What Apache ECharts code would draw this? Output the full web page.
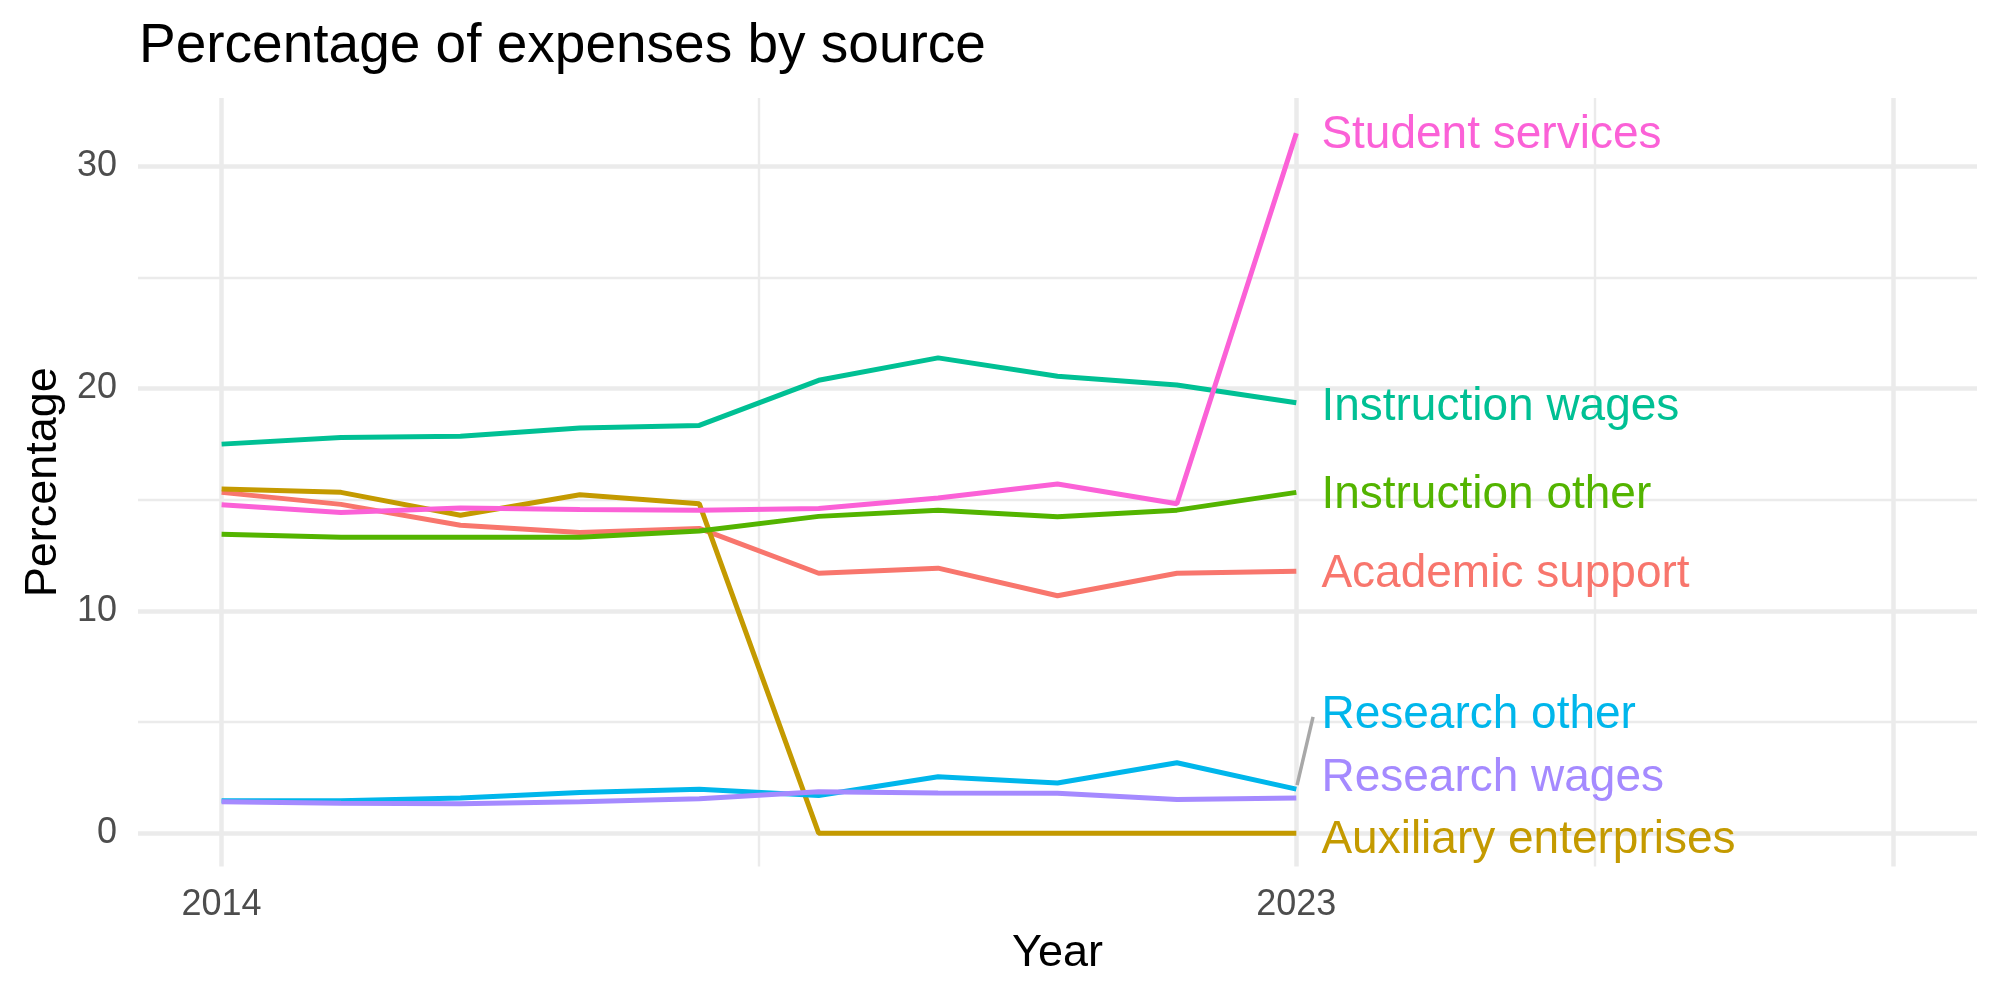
<!DOCTYPE html>
<html>
<head>
<meta charset="utf-8">
<script src="https://cdn.jsdelivr.net/npm/echarts@6/dist/echarts.min.js"></script>
<style>
html,body{margin:0;padding:0;background:#fff;}
#chart{width:2000px;height:1000px;}
</style>
</head>
<body>
<div id="chart"></div>
<script>
const years = [2014, 2015, 2016, 2017, 2018, 2019, 2020, 2021, 2022, 2023];
const seriesNames = ["Academic support", "Auxiliary enterprises", "Instruction other", "Instruction wages", "Research other", "Research wages", "Student services"];
const academicSupport   = [15.33, 14.79, 13.85, 13.52, 13.71, 11.69, 11.92, 10.68, 11.69, 11.78];
const auxiliary         = [15.48, 15.33, 14.30, 15.22, 14.82, 0, 0, 0, 0, 0];
const instructionOther  = [13.45, 13.31, 13.31, 13.31, 13.59, 14.25, 14.53, 14.23, 14.53, 15.33];
const instructionWages  = [17.50, 17.80, 17.85, 18.23, 18.34, 20.37, 21.38, 20.55, 20.16, 19.36];
const researchOther     = [1.46, 1.46, 1.58, 1.83, 1.98, 1.69, 2.54, 2.26, 3.17, 1.98];
const researchWages     = [1.41, 1.34, 1.32, 1.41, 1.55, 1.86, 1.81, 1.79, 1.51, 1.58];
const studentServices   = [14.77, 14.42, 14.63, 14.56, 14.53, 14.60, 15.08, 15.71, 14.82, 31.48];
const seriesValues = [academicSupport, auxiliary, instructionOther, instructionWages, researchOther, researchWages, studentServices];
const colors = ["#F8766D", "#C49A00", "#53B400", "#00C094", "#00B6EB", "#A58AFF", "#FB61D7"];

// repelled label anchors (x = left edge of label, y = label centre)
const labelX = 2023.21;
const labelY = [11.79, -0.19, 15.35, 19.30, 5.43, 2.60, 31.51];
// connector segment for "Research other"
const connector = [[2023.006, 2.16], [2023.14, 5.23]];

const xTicks = [2014, 2023];
const yTicks = [0, 10, 20, 30];
const xMajorGrid = [2014, 2023, 2028];
const xMinorGrid = [2018.5, 2025.5];
const yMajorGrid = [0, 10, 20, 30];
const yMinorGrid = [5, 15, 25];

const FONT = "'Liberation Sans', Arial, sans-serif";
const gridColor = "#EBEBEB";

const gridLines = [];
yMinorGrid.forEach(v => gridLines.push({yAxis: v, lineStyle: {color: gridColor, width: 2.4, type: 'solid'}}));
xMinorGrid.forEach(v => gridLines.push({xAxis: v, lineStyle: {color: gridColor, width: 2.4, type: 'solid'}}));
yMajorGrid.forEach(v => gridLines.push({yAxis: v, lineStyle: {color: gridColor, width: 4.5, type: 'solid'}}));
xMajorGrid.forEach(v => gridLines.push({xAxis: v, lineStyle: {color: gridColor, width: 4.5, type: 'solid'}}));

const series = [{
  type: 'line', data: [], silent: true, z: 0,
  markLine: {silent: true, z: 0, symbol: ['none', 'none'], label: {show: false}, animation: false,
             emphasis: {disabled: true}, data: gridLines}
}];

seriesNames.forEach((name, i) => {
  series.push({
    name: name, type: 'line', showSymbol: false, z: 2 + i,
    data: years.map((y, j) => [y, seriesValues[i][j]]),
    lineStyle: {color: colors[i], width: 5},
    itemStyle: {color: colors[i]}
  });
});

series.push({
  type: 'line', showSymbol: false, z: 1, data: connector,
  lineStyle: {color: '#A8A8A8', width: 3.5}
});

series.push({
  type: 'scatter', symbolSize: 0, z: 20,
  itemStyle: {opacity: 1},
  data: seriesNames.map((name, i) => ({
    value: [labelX, labelY[i]],
    label: {show: true, position: 'right', distance: 0, offset: [0, 3], formatter: name, color: colors[i],
            opacity: 1, fontSize: 46, fontFamily: FONT, verticalAlign: 'middle'}
  }))
});

const chart = echarts.init(document.getElementById('chart'), null, {renderer: 'canvas'});
chart.setOption({
  animation: false,
  backgroundColor: '#ffffff',
  title: {
    text: 'Percentage of expenses by source', left: 139, top: 19, padding: 0,
    textStyle: {fontSize: 55, fontWeight: 'normal', color: '#000', fontFamily: FONT}
  },
  grid: {left: 138, right: 23, top: 98, bottom: 133.5},
  xAxis: {
    type: 'value', min: 2013.3, max: 2028.7,
    name: 'Year', nameLocation: 'middle', nameGap: 65,
    nameTextStyle: {fontSize: 45, color: '#000', fontFamily: FONT},
    axisLine: {show: false}, axisTick: {show: false}, splitLine: {show: false},
    axisLabel: {customValues: xTicks, fontSize: 36, color: '#4D4D4D', margin: 21, fontFamily: FONT,
                formatter: v => String(v)}
  },
  yAxis: {
    type: 'value', min: -1.5, max: 33.07,
    name: 'Percentage', nameLocation: 'middle', nameGap: 72,
    nameTextStyle: {fontSize: 45, color: '#000', fontFamily: FONT},
    axisLine: {show: false}, axisTick: {show: false}, splitLine: {show: false},
    axisLabel: {customValues: yTicks, fontSize: 36, color: '#4D4D4D', margin: 21, fontFamily: FONT,
                formatter: v => String(v)}
  },
  series: series
});
</script>
</body>
</html>
